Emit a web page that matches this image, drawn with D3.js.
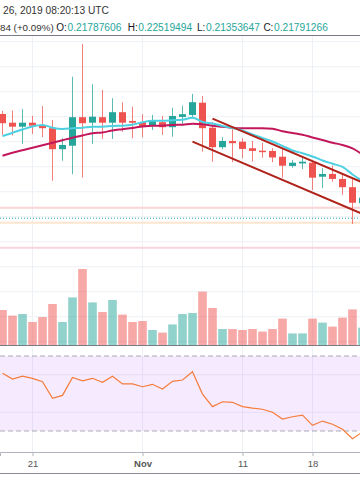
<!DOCTYPE html>
<html><head><meta charset="utf-8">
<script src="https://cdn.jsdelivr.net/npm/d3@7"></script>
<style>html,body{margin:0;padding:0;background:#fff;}svg{display:block;}</style>
</head><body>
<svg id="c" width="360" height="504"></svg>
<script>
// ---- data ----
const dates = ["2019-10-18","2019-10-19","2019-10-20","2019-10-21","2019-10-22","2019-10-23","2019-10-24","2019-10-25","2019-10-26","2019-10-27","2019-10-28","2019-10-29","2019-10-30","2019-10-31","2019-11-01","2019-11-02","2019-11-03","2019-11-04","2019-11-05","2019-11-06","2019-11-07","2019-11-08","2019-11-09","2019-11-10","2019-11-11","2019-11-12","2019-11-13","2019-11-14","2019-11-15","2019-11-16","2019-11-17","2019-11-18","2019-11-19","2019-11-20","2019-11-21","2019-11-22","2019-11-23"];
const open  = [0.2611,0.2576,0.2560,0.2576,0.2564,0.2554,0.2470,0.2484,0.2598,0.2576,0.2598,0.2576,0.2618,0.2583,0.2578,0.2564,0.2578,0.2558,0.2599,0.2607,0.2656,0.2556,0.2478,0.2503,0.2500,0.2474,0.2464,0.2463,0.2440,0.2403,0.2413,0.2416,0.2360,0.2371,0.2351,0.2318,0.2254];
const high  = [0.2623,0.2625,0.2631,0.2603,0.2643,0.2587,0.2514,0.2760,0.2891,0.2730,0.2707,0.2674,0.2658,0.2640,0.2610,0.2607,0.2603,0.2636,0.2644,0.2691,0.2683,0.2578,0.2518,0.2554,0.2514,0.2503,0.2496,0.2474,0.2471,0.2427,0.2437,0.2427,0.2394,0.2404,0.2367,0.2354,0.2291];
const low   = [0.2527,0.2525,0.2491,0.2531,0.2518,0.2344,0.2424,0.2370,0.2356,0.2491,0.2511,0.2511,0.2540,0.2514,0.2518,0.2547,0.2527,0.2520,0.2564,0.2598,0.2460,0.2420,0.2470,0.2418,0.2434,0.2420,0.2436,0.2418,0.2356,0.2396,0.2390,0.2307,0.2314,0.2340,0.2287,0.2171,0.2243];
const close = [0.2574,0.2560,0.2576,0.2564,0.2554,0.2470,0.2487,0.2598,0.2574,0.2600,0.2576,0.2618,0.2576,0.2576,0.2563,0.2583,0.2558,0.2603,0.2610,0.2658,0.2554,0.2478,0.2503,0.2494,0.2471,0.2463,0.2458,0.2437,0.2404,0.2416,0.2420,0.2356,0.2371,0.2351,0.2318,0.2256,0.2276];
const volume = [175,147,155,115,140,205,115,238,380,213,165,225,152,115,120,75,62,103,155,160,267,185,80,80,75,80,67,80,132,58,58,132,112,92,137,178,87];
const maFast = [0.2522,0.2536,0.2549,0.2561,0.2567,0.2556,0.2551,0.2554,0.2556,0.2560,0.2560,0.2563,0.2564,0.2568,0.2578,0.2584,0.2584,0.2586,0.2588,0.2596,0.2579,0.2573,0.2563,0.2555,0.2545,0.2529,0.2515,0.2501,0.2483,0.2465,0.2454,0.2441,0.2425,0.2412,0.2399,0.2369,0.2343];
const maSlow = [0.2444,0.2456,0.2466,0.2476,0.2486,0.2496,0.2506,0.2516,0.2525,0.2534,0.2537,0.2545,0.2550,0.2555,0.2561,0.2564,0.2564,0.2567,0.2568,0.2572,0.2570,0.2564,0.2560,0.2556,0.2554,0.2554,0.2554,0.2552,0.2542,0.2535,0.2528,0.2517,0.2507,0.2496,0.2487,0.2473,0.2449];
const rsi = [60.8,57.7,59.3,58.1,56.3,47.4,49.0,58.6,56.7,58.1,56.0,59.2,55.1,55.1,53.6,54.9,52.4,56.5,57.2,61.6,49.7,43.0,45.6,45.3,43.0,42.2,41.6,40.0,36.4,37.6,38.5,33.0,35.3,33.6,30.9,25.9,29.5];
const tickDates = ["2019-10-21","2019-11-01","2019-11-11","2019-11-18"];
const tickLabels = ["21","Nov","11","18"];
const trendUpper = [["2019-11-08",0.2592],["2019-11-24",0.2320]];
const trendLower = [["2019-11-06",0.2500],["2019-11-24",0.2194]];
const levels = [
  {price:0.2236, color:"#fad4d6", width:2, dash:null},
  {price:0.2194, color:"#26a69a", width:1, dash:"1,2"},
  {price:0.2176, color:"#fde4cf", width:2, dash:null},
  {price:0.2076, color:"#f8d5dc", width:2, dash:null}
];
const header1 = "26, 2019 08:20:13 UTC";
const changeText = "84 (+0.09%)";
const ohlcLabels = ["O:","H:","L:","C:"];
const ohlcValues = ["0.21787606","0.22519494","0.21353647","0.21791266"];

// ---- setup ----
const W = 360;
const FONT = "'Liberation Sans', Arial, sans-serif";
const parse = d3.utcParse("%Y-%m-%d");
const data = dates.map((d,i)=>({date:parse(d), o:open[i], h:high[i], l:low[i], c:close[i], v:volume[i], f:maFast[i], s:maSlow[i], r:rsi[i]}));
const UP = "#26a69a", DOWN = "#ef5350";

const x = d3.scaleUtc().domain([Date.UTC(2019,9,17,18), Date.UTC(2019,10,22,18)]).range([0, W]);
const y = d3.scaleLinear().domain([0.23, 0.29]).range([191.7, 41.7]);
const yv = d3.scaleLinear().domain([0, 500]).range([345, 245]);
const yr = d3.scaleLinear().domain([30, 70]).range([431, 356]);

const svg = d3.select("#c");
const defs = svg.append("defs");
defs.append("clipPath").attr("id","main").append("rect").attr("x",0).attr("y",35.5).attr("width",W).attr("height",309.5);
defs.append("clipPath").attr("id","rsi").append("rect").attr("x",0).attr("y",346).attr("width",W).attr("height",105.5);

// ---- header ----
svg.append("text").attr("x",3).attr("y",14).attr("font-family",FONT).attr("font-size",10.2).attr("fill","#333").text(header1);
const h2 = svg.append("g").attr("font-family",FONT).attr("font-size",10.2);
h2.append("text").attr("x",0).attr("y",30.5).attr("font-size",9.8).attr("fill","#333").text(changeText);
const valueX = [67.5, 138.3, 206, 274];
h2.selectAll("text.lab").data(ohlcLabels).join("text").attr("class","lab")
  .attr("x",(d,i)=>valueX[i]-0.6).attr("y",30.5).attr("font-size",10).attr("text-anchor","end").attr("fill","#131722").text(d=>d);
h2.selectAll("text.val").data(ohlcValues).join("text").attr("class","val")
  .attr("x",(d,i)=>valueX[i]).attr("y",30.5).attr("fill","#26a69a").text(d=>d);

// ---- main pane ----
const main = svg.append("g").attr("clip-path","url(#main)");
const gridPrices = d3.scaleLinear().domain([0.17,0.29]).ticks(12);
main.append("g").selectAll("line").data(gridPrices).join("line")
  .attr("x1",0).attr("x2",W).attr("y1",d=>y(d)).attr("y2",d=>y(d))
  .attr("stroke","#edf0f5").attr("stroke-width",1);
main.append("g").selectAll("line").data(tickDates).join("line")
  .attr("x1",d=>x(parse(d))).attr("x2",d=>x(parse(d))).attr("y1",35).attr("y2",345)
  .attr("stroke","#edf0f5").attr("stroke-width",1);

main.append("g").selectAll("line").data(levels).join("line")
  .attr("x1",0).attr("x2",W).attr("y1",d=>y(d.price)).attr("y2",d=>y(d.price))
  .attr("stroke",d=>d.color).attr("stroke-width",d=>d.width).attr("stroke-dasharray",d=>d.dash);

// volume
main.append("g").selectAll("rect").data(data).join("rect")
  .attr("x",d=>x(d.date)-4.3).attr("width",8.6)
  .attr("y",d=>yv(d.v)).attr("height",d=>yv(0)-yv(d.v))
  .attr("fill",d=>d.c>=d.o?"rgba(38,166,154,0.5)":"rgba(239,83,80,0.5)");

// candles
const cg = main.append("g");
cg.selectAll("line").data(data).join("line")
  .attr("x1",d=>x(d.date)).attr("x2",d=>x(d.date))
  .attr("y1",d=>y(d.h)).attr("y2",d=>y(d.l))
  .attr("stroke",d=>d.c>=d.o?UP:DOWN).attr("stroke-width",1).attr("stroke-opacity",0.75);
cg.selectAll("rect").data(data).join("rect")
  .attr("x",d=>x(d.date)-3.5).attr("width",7)
  .attr("y",d=>y(Math.max(d.o,d.c))).attr("height",d=>Math.max(1,Math.abs(y(d.o)-y(d.c))))
  .attr("fill",d=>d.c>=d.o?UP:DOWN);

// moving averages
const lineF = d3.line().x(d=>x(d.date)).y(d=>y(d.f)).curve(d3.curveMonotoneX);
const lineS = d3.line().x(d=>x(d.date)).y(d=>y(d.s)).curve(d3.curveMonotoneX);
main.append("path").datum(data).attr("d",lineS).attr("fill","none").attr("stroke","#c2185b").attr("stroke-width",2);
main.append("path").datum(data).attr("d",lineF).attr("fill","none").attr("stroke","#4dd0e1").attr("stroke-width",2);

// trend lines
const tl = d3.line().x(d=>x(parse(d[0]))).y(d=>y(d[1]));
[trendUpper, trendLower].forEach(t=>{
  main.append("path").datum(t).attr("d",tl).attr("fill","none").attr("stroke","#b0231b").attr("stroke-width",2);
});

// pane borders
svg.append("line").attr("x1",0).attr("x2",W).attr("y1",35.5).attr("y2",35.5).attr("stroke","#787b86").attr("stroke-width",1);
svg.append("line").attr("x1",0).attr("x2",W).attr("y1",345.5).attr("y2",345.5).attr("stroke","#787b86").attr("stroke-width",1.2);

// ---- RSI pane ----
const rp = svg.append("g").attr("clip-path","url(#rsi)");
rp.append("g").selectAll("line").data(tickDates).join("line")
  .attr("x1",d=>x(parse(d))).attr("x2",d=>x(parse(d))).attr("y1",346).attr("y2",452)
  .attr("stroke","#edf0f5");
rp.append("rect").attr("x",0).attr("width",W).attr("y",yr(70)).attr("height",yr(30)-yr(70)).attr("fill","rgba(153,21,255,0.09)");
rp.append("g").selectAll("line").data([40,60]).join("line")
  .attr("x1",0).attr("x2",W).attr("y1",d=>yr(d)).attr("y2",d=>yr(d)).attr("stroke","#e6dcf3");
rp.append("g").selectAll("line").data([30,70]).join("line")
  .attr("x1",0).attr("x2",W).attr("y1",d=>yr(d)).attr("y2",d=>yr(d))
  .attr("stroke","#a9abb3").attr("stroke-dasharray","5,3");
const lineR = d3.line().x(d=>x(d.date)).y(d=>yr(d.r));
rp.append("path").datum(data).attr("d",lineR).attr("fill","none").attr("stroke","#f57c3a").attr("stroke-width",1.2);

// x axis
const xAxis = d3.axisBottom(x).tickValues(tickDates.map(parse)).tickSize(4).tickPadding(4)
  .tickFormat((d,i)=>tickLabels[i]);
const ax = svg.append("g").attr("transform","translate(0,452)").call(xAxis);
ax.select(".domain").attr("stroke","#b2b5be");
ax.selectAll(".tick line").attr("stroke","#b2b5be");
ax.selectAll(".tick text").attr("font-family",FONT).attr("font-size",9.5).attr("fill","#555")
  .attr("font-weight",(d,i)=>tickLabels[i]==="Nov"?"bold":"normal");
svg.append("line").attr("x1",0).attr("x2",W).attr("y1",473.5).attr("y2",473.5).attr("stroke","#8a8d96").attr("stroke-width",1.2);
</script>
</body></html>
